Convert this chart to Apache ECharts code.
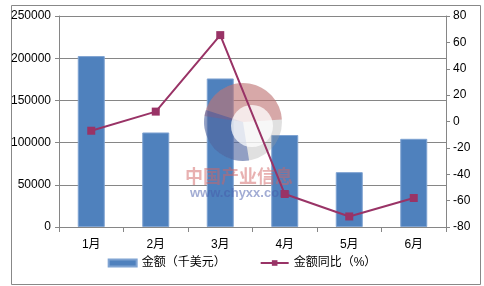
<!DOCTYPE html>
<html><head><meta charset="utf-8">
<script src="https://cdn.jsdelivr.net/npm/echarts@6/dist/echarts.min.js"></script>
<style>html,body{margin:0;padding:0;background:#fff}#c{width:484px;height:286px}</style>
</head><body><div id="c"></div>
<script>
var categories = ['1月','2月','3月','4月','5月','6月'];
var amountValues = [202500, 112000, 176000, 109000, 65000, 104500];
var yoyValues = [-7, 7.5, 65.5, -55, -72, -58];
var seriesNames = ['金额（千美元）','金额同比（%）'];
var watermarkTexts = ['中国产业信息','www.chyxx.com'];

var chart = echarts.init(document.getElementById('c'), null, {renderer:'canvas'});
var font = '"Liberation Sans","Noto Sans CJK SC",sans-serif';
var axisGray = '#868686';
var cx = 243, cy = 122;
chart.setOption({
  animation:false,
  textStyle:{fontFamily:font},
  grid:{left:59,right:38,top:16,bottom:59},
  legend:{
    bottom:12, left:'center', itemGap:34, itemWidth:28, itemHeight:7,
    textStyle:{fontSize:12,color:'#000',fontFamily:font},
    data:[{name:seriesNames[0],icon:'rect'},{name:seriesNames[1]}]
  },
  xAxis:{
    type:'category', data:categories, boundaryGap:true,
    axisLine:{lineStyle:{color:axisGray}},
    axisTick:{show:true,length:5,inside:false,lineStyle:{color:axisGray}},
    axisLabel:{color:'#000',fontSize:12,margin:12,fontFamily:font}
  },
  yAxis:[{
    type:'value', min:0, max:250000, interval:50000,
    axisLine:{show:true,lineStyle:{color:axisGray}},
    axisTick:{show:true,length:4,lineStyle:{color:axisGray}},
    splitLine:{show:true,lineStyle:{color:axisGray,width:1}},
    axisLabel:{color:'#000',fontSize:12,margin:8,fontFamily:font,formatter:function(v){return String(v);}}
  },{
    type:'value', min:-80, max:80, interval:20, position:'right',
    axisLine:{show:true,lineStyle:{color:axisGray}},
    axisTick:{show:true,length:4,lineStyle:{color:axisGray}},
    splitLine:{show:false},
    axisLabel:{color:'#000',fontSize:12,margin:7,fontFamily:font,formatter:function(v){return String(v);}}
  }],
  series:[{
    name:seriesNames[0], type:'bar', data:amountValues, barWidth:27,
    itemStyle:{color:'#4F81BD',borderColor:'#7FA3D2',borderWidth:1}, z:2
  },{
    name:seriesNames[1], type:'line', yAxisIndex:1, data:yoyValues,
    symbol:'rect', symbolSize:8, zlevel:2,
    lineStyle:{color:'#993366',width:2},
    itemStyle:{color:'#993366'}, z:20
  }],
  graphic:[
    {type:'rect',left:9,top:3,shape:{width:469,height:279},style:{fill:'none',stroke:'#888',lineWidth:1},silent:true,z:-1},
    {type:'circle',zlevel:1,shape:{cx:cx,cy:cy,r:39},style:{fill:'rgba(160,160,160,0.32)'},z:5,silent:true},
    {type:'sector',zlevel:1,shape:{cx:cx,cy:cy,r:39,r0:0,startAngle:Math.PI*1.05,endAngle:Math.PI*1.98},style:{fill:'rgba(205,100,100,0.45)'},z:5,silent:true},
    {type:'sector',zlevel:1,shape:{cx:cx,cy:cy,r:39,r0:0,startAngle:Math.PI*0.45,endAngle:Math.PI*1.1},style:{fill:'rgba(50,80,160,0.45)'},z:5,silent:true},
    {type:'circle',zlevel:1,shape:{cx:cx+9,cy:cy+4,r:21},style:{fill:'rgba(255,255,255,0.75)'},z:6,silent:true},
    {type:'text',zlevel:1,left:185,top:167,style:{text:watermarkTexts[0],fill:'rgba(210,100,100,0.5)',font:'bold 18px "Noto Sans CJK SC",sans-serif'},z:7,silent:true},
    {type:'text',zlevel:1,left:190,top:187,style:{text:watermarkTexts[1],fill:'rgba(70,90,170,0.5)',font:'bold 13px "Liberation Sans",sans-serif'},z:7,silent:true}
  ]
});
</script></body></html>
